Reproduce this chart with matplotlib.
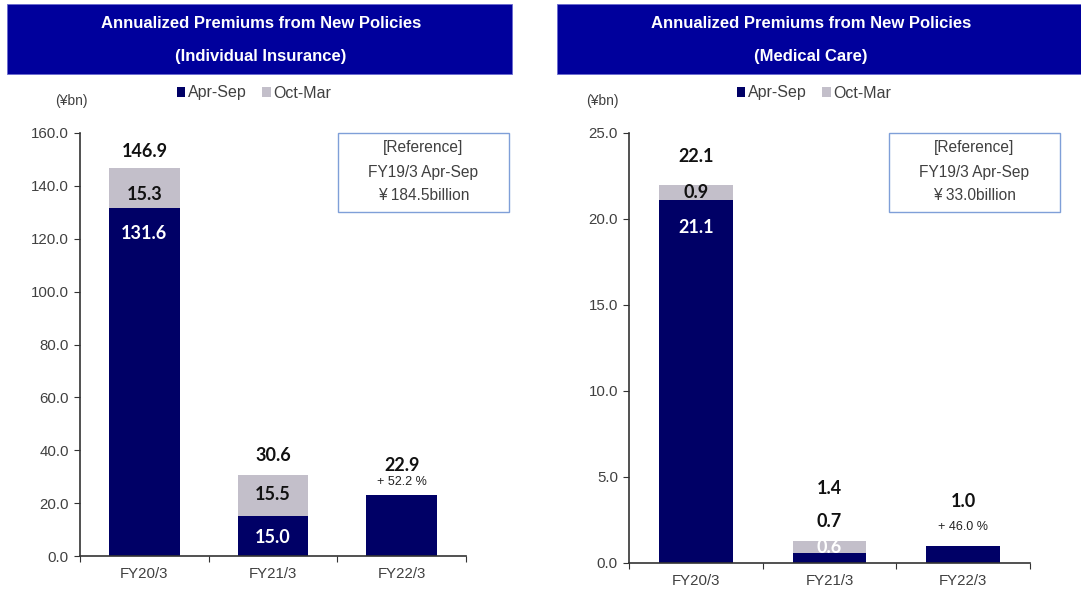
import matplotlib.pyplot as plt
from matplotlib.patches import Rectangle, Patch

W, H = 1081, 591

categories = ['FY20/3', 'FY21/3', 'FY22/3']
series_names = ['Apr-Sep', 'Oct-Mar']

# Individual insurance (JPY bn)
ind_apr_sep = [131.6, 15.0, 22.9]
ind_oct_mar = [15.3, 15.5, 0.0]
ind_total = [146.9, 30.6, 22.9]
ind_growth = '+ 52.2 %'
ind_ticks = [0, 20, 40, 60, 80, 100, 120, 140, 160]
ind_ref = ['[Reference]', 'FY19/3 Apr-Sep', '¥ 184.5billion']

# Medical care (JPY bn)
med_apr_sep = [21.1, 0.6, 1.0]
med_oct_mar = [0.9, 0.7, 0.0]
med_total = [22.1, 1.4, 1.0]
med_growth = '+ 46.0 %'
med_ticks = [0, 5, 10, 15, 20, 25]
med_ref = ['[Reference]', 'FY19/3 Apr-Sep', '¥ 33.0billion']

NAVY = '#000066'
GREY = '#c3bfca'
BANNER = '#00009c'
TXT = '#404040'
SANS = 'Liberation Sans'
BOLD = 'Lato'

fig = plt.figure(figsize=(W / 100, H / 100), dpi=100)


def fx(px):
    return px / W


def fy(py):
    return 1 - py / H


def pbox(x0, y0, x1, y1):
    return [fx(x0), fy(y1), fx(x1) - fx(x0), fy(y0) - fy(y1)]


def draw_panel(banner, title_x, subtitle, axbox, apr, octm, total, ticks, growth,
               ref, refbox, leg_x, unit_x, offs):
    # title banner
    fig.patches.append(Rectangle((fx(banner[0]), fy(banner[3])),
                                 fx(banner[2]) - fx(banner[0]), fy(banner[1]) - fy(banner[3]),
                                 transform=fig.transFigure, facecolor=BANNER,
                                 edgecolor='#6a6ad0', lw=0.6, zorder=0))
    fig.text(fx(title_x), fy(23), 'Annualized Premiums from New Policies', color='white',
             fontsize=12, fontweight='bold', family=SANS, ha='center', va='center')
    fig.text(fx(title_x), fy(56), subtitle, color='white',
             fontsize=12, fontweight='bold', family=SANS, ha='center', va='center')

    # legend and unit
    handles = [Patch(facecolor=NAVY), Patch(facecolor=GREY)]
    leg = fig.legend(handles, series_names, loc='center', bbox_to_anchor=(fx(leg_x), fy(93)),
                     ncol=2, frameon=False, handlelength=0.55, handleheight=0.55,
                     handletextpad=0.15, columnspacing=1.0,
                     prop={'family': SANS, 'size': 11.5})
    for t in leg.get_texts():
        t.set_color(TXT)
    fig.text(fx(unit_x), fy(101), '(¥bn)', fontsize=10, family=SANS, color=TXT,
             ha='center', va='center')

    # reference box
    fig.patches.append(Rectangle((fx(refbox[0]), fy(refbox[3])),
                                 fx(refbox[2]) - fx(refbox[0]), fy(refbox[1]) - fy(refbox[3]),
                                 transform=fig.transFigure, facecolor='white',
                                 edgecolor='#7f9fd8', lw=1.0, zorder=0))
    cx = (refbox[0] + refbox[2]) / 2
    for line, py in zip(ref, [148, 173, 196]):
        fig.text(fx(cx), fy(py), line, fontsize=11.2, family=SANS, color=TXT,
                 ha='center', va='center')

    ax = fig.add_axes(pbox(*axbox))
    x = range(len(categories))
    ax.bar(x, apr, width=0.55, color=NAVY)
    ax.bar(x, octm, width=0.55, bottom=apr, color=GREY)
    ax.set_xlim(-0.5, 2.5)
    ax.set_ylim(ticks[0], ticks[-1])
    ax.set_yticks(ticks)
    ax.set_yticklabels(['%.1f' % t for t in ticks])
    ax.set_xticks([-0.5, 0.5, 1.5, 2.5])
    ax.set_xticklabels([])
    ax.set_xticks(list(x), categories, minor=True)
    ax.tick_params(axis='x', which='minor', length=0, pad=8)
    ax.tick_params(axis='x', which='major', length=4, direction='out', color='#333333')
    ax.tick_params(axis='y', length=4, direction='out', color='#333333', pad=4)
    for lab in ax.get_xticklabels(minor=True) + ax.get_yticklabels():
        lab.set_family(SANS)
        lab.set_fontsize(10.8)
        lab.set_color(TXT)
    for s in ['top', 'right']:
        ax.spines[s].set_visible(False)
    for s in ['left', 'bottom']:
        ax.spines[s].set_color('#333333')
        ax.spines[s].set_linewidth(1.2)

    lbl = dict(textcoords='offset pixels', ha='center', va='center',
               family=BOLD, fontweight='bold', fontsize=13)
    for i in x:
        top = apr[i] + octm[i]
        ax.annotate('%.1f' % total[i], (i, top), xytext=(0, offs['total'][i]),
                    color='#111111', **lbl)
        if octm[i] > 0:
            ax.annotate('%.1f' % octm[i], (i, top), xytext=(0, offs['oct'][i]),
                        color='#111111', **lbl)
            ax.annotate('%.1f' % apr[i], (i, apr[i]), xytext=(0, offs['apr'][i]),
                        color='white', **lbl)
    ax.annotate(growth, (2, apr[2] + octm[2]), xytext=(0, offs['growth']),
                textcoords='offset pixels', ha='center', va='center',
                family=SANS, fontsize=9, color='#222222')
    return ax


draw_panel((7, 4, 512, 74), 261, '(Individual Insurance)', (80, 133, 466, 556),
           ind_apr_sep, ind_oct_mar, ind_total, ind_ticks, ind_growth,
           ind_ref, (338, 133, 509, 212), 254, 71,
           {'total': [16, 20, 30], 'oct': [-27, -19, 0], 'apr': [-25, -21, 0], 'growth': 13})

draw_panel((557, 4, 1081, 74), 811, '(Medical Care)', (629, 133, 1030, 563),
           med_apr_sep, med_oct_mar, med_total, med_ticks, med_growth,
           med_ref, (889, 133, 1060, 212), 814, 602,
           {'total': [28, 52, 44], 'oct': [-8, 19, 0], 'apr': [-27, 5, 0], 'growth': 19})

fig.savefig('out.png', dpi=100, facecolor='white')
